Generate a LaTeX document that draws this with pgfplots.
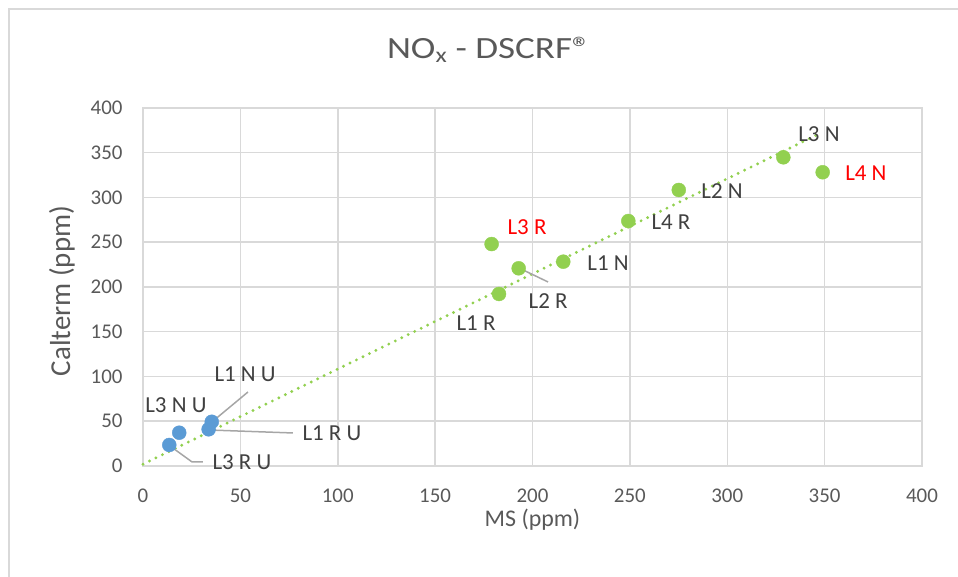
\documentclass[border=0pt]{standalone}
\usepackage{fontspec}
\setmainfont{Carlito}
\usepackage{graphicx}
\usepackage{pgfplots}
\pgfplotsset{compat=1.18}
\definecolor{gridc}{HTML}{D9D9D9}
\definecolor{tickc}{HTML}{595959}
\definecolor{labc}{HTML}{404040}
\definecolor{grn}{HTML}{92D050}
\definecolor{blu}{HTML}{5B9BD5}
\definecolor{lead}{HTML}{A6A6A6}
\begin{document}
\begin{tikzpicture}
\path[use as bounding box] (0,0) rectangle (958bp,577bp);
\draw[gridc, line width=2bp] (9bp,0) -- (9bp,568bp) -- (958bp,568bp);
\node[tickc, font=\fontsize{31}{36}\selectfont, anchor=base] at (489bp,518bp) {\scalebox{1.2}[1]{NO\textsubscript{x} - DSCRF®}};
\begin{axis}[
  at={(143bp,111bp)}, anchor=south west, scale only axis,
  width=779bp, height=358bp,
  xmin=0, xmax=400, ymin=0, ymax=400,
  xtick={0,50,...,400}, ytick={0,50,...,400},
  grid=major, major grid style={gridc, line width=1.5bp},
  axis line style={gridc, line width=1.5bp},
  tick style={draw=none},
  ticklabel style={tickc, font=\fontsize{21}{25}\selectfont},
  /pgf/number format/assume math mode=true,
  xticklabel style={yshift=-19bp},
  yticklabel style={xshift=-17bp},
  xlabel={MS (ppm)}, ylabel={Calterm (ppm)},
  xlabel style={tickc, font=\fontsize{24}{28}\selectfont, at={(axis description cs:0.5,-0.170)}, anchor=base},
  ylabel style={tickc, font=\fontsize{29}{33}\selectfont, at={(axis description cs:-0.104,0.489)}, anchor=center, rotate=0},
  clip=false,
]
% green series
\addplot[only marks, mark=*, mark size=7bp, mark options={draw=grn, fill=grn}] coordinates {
  (179.0,248.0) (192.9,220.9) (215.8,228.3) (182.8,192.2)
  (249.2,273.7) (275.1,308.4) (328.8,344.9) (349.0,328.2)
};
% blue series
\addplot[only marks, mark=*, mark size=7bp, mark options={draw=blu, fill=blu}] coordinates {
  (35.3,49.4) (33.7,41.0) (18.6,37.2) (13.5,23.5)
};
% trendline
\addplot[grn, line width=3.2bp, line cap=round, dash pattern=on 0pt off 7.2bp] coordinates {(0,2) (347,371)};
% leader lines
\addplot[lead, line width=1.5bp] coordinates {(53.9,82.7) (35.4,49.2)};
\addplot[lead, line width=1.5bp] coordinates {(77.0,36.9) (34.4,40.2)};
\addplot[lead, line width=1.5bp] coordinates {(30.8,4.5) (25.2,4.5) (13.9,22.3)};
\addplot[lead, line width=1.5bp] coordinates {(208.0,205.6) (193.1,221.2)};
% data labels
\begin{scope}[every node/.style={labc, font=\fontsize{23}{27}\selectfont, anchor=center}]
\node at (axis cs:16.9,68.2) {L3 N U};
\node at (axis cs:52.4,102.8) {L1 N U};
\node at (axis cs:97.0,36.9) {L1 R U};
\node at (axis cs:50.8,4.5) {L3 R U};
\node[red] at (axis cs:197.2,267.0) {L3 R};
\node at (axis cs:238.8,226.8) {L1 N};
\node at (axis cs:208.0,184.4) {L2 R};
\node at (axis cs:171.0,159.8) {L1 R};
\node at (axis cs:271.1,272.6) {L4 R};
\node at (axis cs:297.3,307.3) {L2 N};
\node at (axis cs:347.1,370.9) {L3 N};
\node[red] at (axis cs:371.2,327.4) {L4 N};
\end{scope}
\end{axis}
\end{tikzpicture}
\end{document}
